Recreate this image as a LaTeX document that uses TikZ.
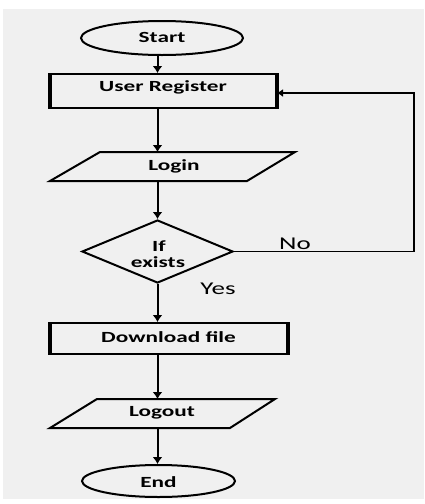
\documentclass[tikz,border=0pt]{standalone}
\usepackage{fontspec}
\newfontfamily\bx[FakeStretch=1.5]{Carlito}
\usetikzlibrary{shapes.geometric,arrows.meta}
\definecolor{bg}{HTML}{F0F0F0}
\begin{document}
\begin{tikzpicture}[x=1pt,y=-1pt,
  lbl/.style={font=\bx\bfseries\fontsize{15.5}{17}\selectfont, inner sep=0pt, align=center},
  ans/.style={font=\bx\fontsize{18}{20}\selectfont, inner sep=0pt},
  shp/.style={draw=black, line width=2pt},
  arr/.style={line width=2pt, -{Latex[length=7pt,width=10pt]}},
  fbarr/.style={line width=1.6pt, -{Latex[length=6pt,width=8pt]}}]
\useasboundingbox (0,0) rectangle (424,504);
\fill[white] (0,0) rectangle (424,504);
\fill[bg] (3,9) rectangle (424,499);
% start
\node[shp, ellipse, minimum width=162pt, minimum height=34pt, inner sep=0pt] (start) at (162,38) {};
\node[lbl] (starttxt) at (162,37) {Start};
% user register
\node[shp, rectangle, minimum width=225pt, minimum height=34pt, inner sep=0pt] (ur) at (163.5,91) {};
\draw[line width=3.6pt] (ur.north west) -- (ur.south west) (ur.north east) -- (ur.south east);
\node[lbl] (urtxt) at (163,87) {User Register};
% login
\draw[shp, line join=miter] (100,152) -- (295,152) -- (247,181) -- (50,181) -- cycle;
\node[lbl] (login) at (174,166) {Login};
\coordinate (logintop) at (157.5,152);
\coordinate (loginbot) at (157.5,181);
% decision
\node[shp, diamond, minimum width=151pt, minimum height=63pt, inner sep=0pt] (dec) at (157.5,251.5) {};
\node[lbl] (ift) at (159,246) {If};
\node[lbl] (ext) at (158,262) {exists};
% download
\node[shp, rectangle, minimum width=236pt, minimum height=31pt, inner sep=0pt] (dl) at (169,338.5) {};
\draw[line width=3.6pt] (dl.north west) -- (dl.south west) (dl.north east) -- (dl.south east);
\node[lbl] (dltxt) at (168.5,337) {Download file};
% logout
\draw[shp, line join=miter] (97,399) -- (275,399) -- (230,428) -- (50,428) -- cycle;
\node[lbl] (logout) at (162,413) {Logout};
\coordinate (logouttop) at (157.5,399);
\coordinate (logoutbot) at (157.5,428);
% end
\node[shp, ellipse, minimum width=153pt, minimum height=32pt, inner sep=0pt] (end) at (158.5,481) {};
\node[lbl] (endtxt) at (158.5,482) {End};
% connectors
\draw[arr] (start.south -| dec) -- (ur.north -| dec);
\draw[arr] (ur.south -| dec) -- (logintop);
\draw[arr] (loginbot) -- (dec.north);
\draw[arr] (dec.south) -- (dl.north -| dec);
\draw[arr] (dl.south -| dec) -- (logouttop);
\draw[arr] (logoutbot) -- (end.north -| dec);
\coordinate (fb) at (414,93);
\draw[fbarr] (dec.east) -- (dec.east -| fb) -- (fb) -- (ur.east |- fb);
% answers
\node[ans] (no) at (295,244) {No};
\node[ans] (yes) at (218,289) {Yes};
\end{tikzpicture}
\end{document}
